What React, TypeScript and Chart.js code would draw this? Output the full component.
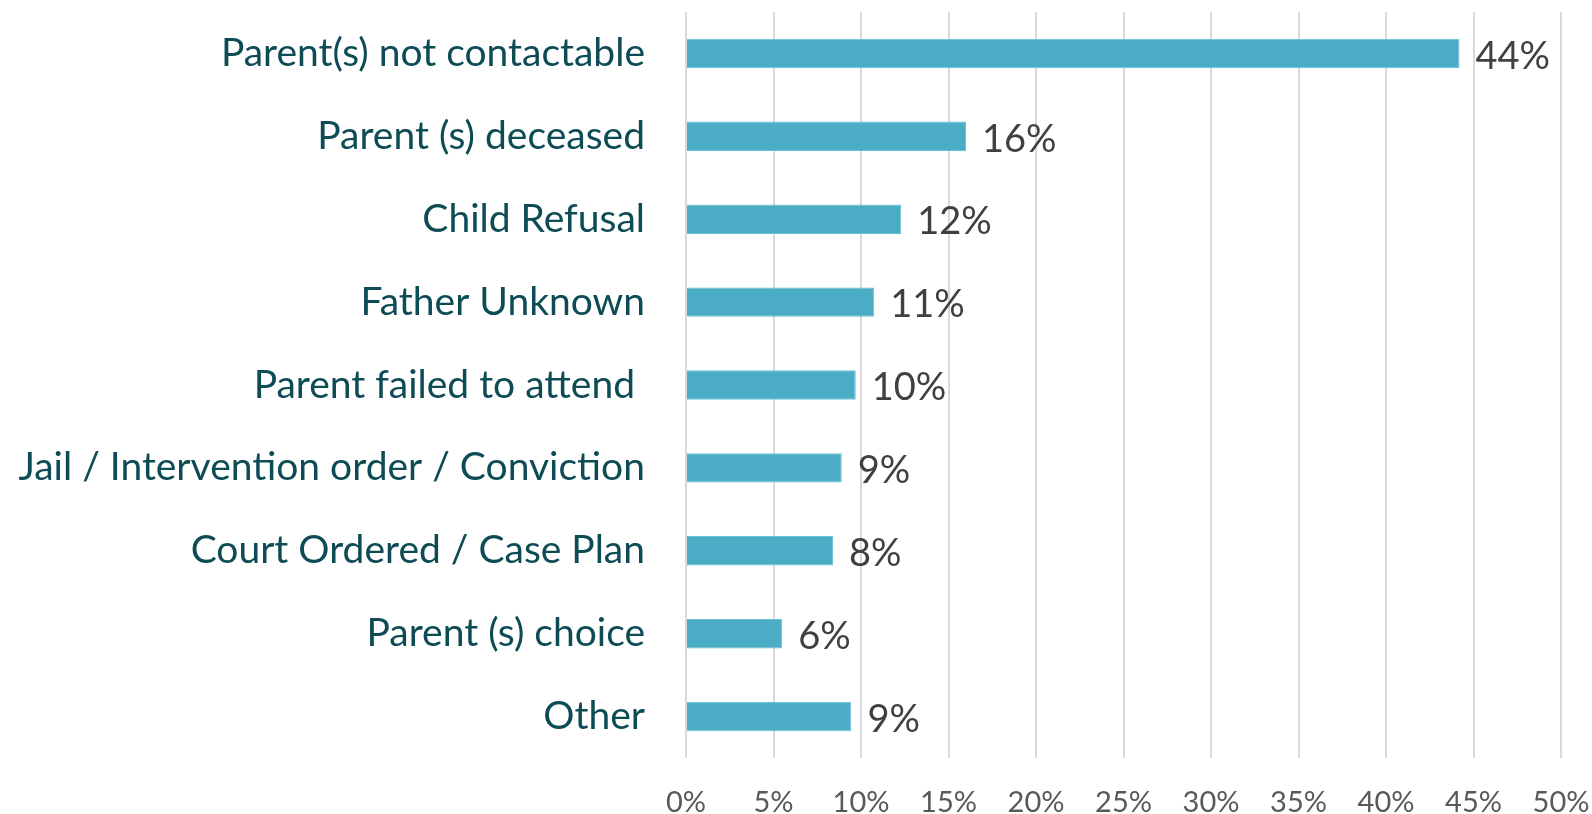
import React, { useEffect, useRef } from "react";
import { Chart, registerables } from "chart.js";

Chart.register(...registerables);

const categories = [
  "Parent(s) not contactable",
  "Parent (s) deceased",
  "Child Refusal",
  "Father Unknown",
  "Parent failed to attend ",
  "Jail / Intervention order / Conviction",
  "Court Ordered / Case Plan",
  "Parent (s) choice",
  "Other",
];
const values = [44.2, 16.0, 12.3, 10.75, 9.7, 8.9, 8.4, 5.5, 9.45];
const valueLabels = ["44%", "16%", "12%", "11%", "10%", "9%", "8%", "6%", "9%"];
const xTicks = [0, 5, 10, 15, 20, 25, 30, 35, 40, 45, 50];

const FONT = "Lato, 'Open Sans', sans-serif";

const dataLabelPlugin = {
  id: "dataLabels",
  afterDatasetsDraw(chart: any) {
    const ctx = chart.ctx;
    const meta = chart.getDatasetMeta(0);
    ctx.save();
    ctx.fillStyle = "#404040";
    ctx.font = `38px ${FONT}`;
    ctx.textAlign = "left";
    ctx.textBaseline = "middle";
    meta.data.forEach((bar: any, i: number) => {
      ctx.fillText(valueLabels[i], bar.x + 16, bar.y + 3);
    });
    ctx.restore();
  },
};

export default function App() {
  const ref = useRef<HTMLCanvasElement>(null);
  useEffect(() => {
    document.body.style.margin = "0";
    const chart = new Chart(ref.current!, {
      type: "bar",
      data: {
        labels: categories,
        datasets: [
          {
            data: values,
            backgroundColor: "#4BACC6",
            borderColor: "#6CC0D6",
            borderWidth: 1,
            barPercentage: 0.355,
            categoryPercentage: 1,
          },
        ],
      },
      options: {
        indexAxis: "y",
        animation: false,
        responsive: false,
        maintainAspectRatio: false,
        layout: { padding: { top: 12, right: 31, left: 0, bottom: 0 } },
        plugins: { legend: { display: false }, tooltip: { enabled: false } },
        scales: {
          x: {
            min: 0,
            max: 50,
            afterBuildTicks(scale: any) {
              scale.ticks = xTicks.map((v) => ({ value: v }));
            },
            afterFit(scale: any) {
              scale.height = 56;
              scale.paddingLeft = 0;
              scale.paddingRight = 0;
              scale.paddingTop = 0;
              scale.paddingBottom = 0;
            },
            grid: { color: "#D9D9D9", lineWidth: 2, drawTicks: false },
            border: { display: false },
            ticks: {
              padding: 27,
              color: "#595959",
              font: { family: FONT, size: 29 },
              callback: (v: any) => `${v}%`,
              maxRotation: 0,
            },
          },
          y: {
            afterFit(scale: any) {
              scale.width = 686;
              scale.paddingLeft = 0;
              scale.paddingRight = 0;
              scale.paddingTop = 0;
              scale.paddingBottom = 0;
            },
            grid: { display: false, drawTicks: false },
            border: { display: false },
            ticks: {
              padding: 41,
              color: "#0D4B55",
              font: { family: FONT, size: 39 },
            },
          },
        },
      },
      plugins: [dataLabelPlugin],
    });
    return () => chart.destroy();
  }, []);
  return (
    <div style={{ width: 1592, height: 814, position: "relative" }}>
      <canvas ref={ref} width={1592} height={814} style={{ display: "block" }} />
    </div>
  );
}
